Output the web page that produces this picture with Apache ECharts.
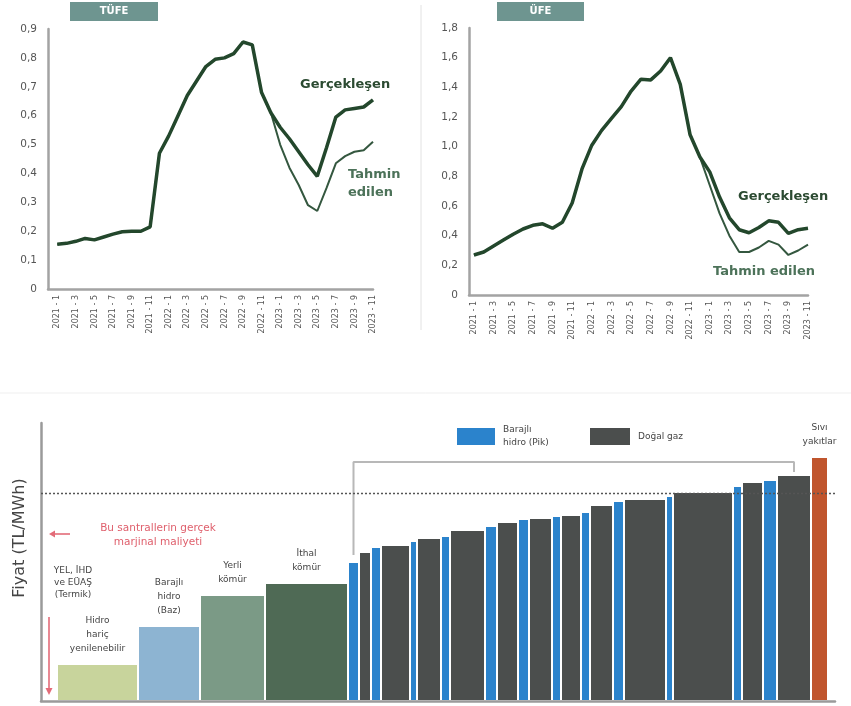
<!DOCTYPE html>
<html><head><meta charset="utf-8">
<script src="https://cdn.jsdelivr.net/npm/echarts@6/dist/echarts.min.js"></script>
<style>html,body{margin:0;padding:0;background:#fff}#c{width:851px;height:706px}</style>
</head><body><div id="c"></div>
<script>
// ---------- data: top charts ----------
const months = ['2021 - 1','2021 - 2','2021 - 3','2021 - 4','2021 - 5','2021 - 6','2021 - 7','2021 - 8','2021 - 9','2021 - 10','2021 - 11','2021 - 12',
  '2022 - 1','2022 - 2','2022 - 3','2022 - 4','2022 - 5','2022 - 6','2022 - 7','2022 - 8','2022 - 9','2022 - 10','2022 - 11','2022 - 12',
  '2023 - 1','2023 - 2','2023 - 3','2023 - 4','2023 - 5','2023 - 6','2023 - 7','2023 - 8','2023 - 9','2023 - 10','2023 - 11'];
const tufeActual = [0.155,0.158,0.165,0.175,0.17,0.18,0.19,0.198,0.2,0.2,0.215,0.47,0.53,0.6,0.67,0.72,0.77,0.795,0.80,0.815,0.855,0.845,0.68,0.61,0.56,0.52,0.475,0.43,0.39,0.49,0.595,0.62,0.625,0.63,0.655];
const tufeForecast = [0.155,0.158,0.165,0.175,0.17,0.18,0.19,0.198,0.2,0.2,0.215,0.47,0.53,0.6,0.67,0.72,0.77,0.795,0.80,0.815,0.855,0.845,0.68,0.61,0.50,0.42,0.36,0.29,0.27,0.35,0.435,0.46,0.475,0.48,0.51];
const ufeActual = [0.27,0.29,0.33,0.37,0.41,0.445,0.47,0.48,0.45,0.49,0.62,0.85,1.01,1.11,1.19,1.27,1.375,1.455,1.45,1.51,1.6,1.42,1.08,0.93,0.83,0.66,0.52,0.44,0.42,0.455,0.50,0.49,0.415,0.44,0.45];
const ufeForecast = [0.27,0.29,0.33,0.37,0.41,0.445,0.47,0.48,0.45,0.49,0.62,0.85,1.01,1.11,1.19,1.27,1.375,1.455,1.45,1.51,1.6,1.42,1.08,0.93,0.74,0.55,0.40,0.29,0.29,0.32,0.365,0.34,0.27,0.30,0.34];

// ---------- data: merit order ----------
const plantType = ['ren','baz','yerli','ithal','pik','gaz','pik','gaz','pik','gaz','pik','gaz','pik','gaz','pik','gaz','pik','gaz','pik','gaz','pik','gaz','pik','gaz','pik','gaz','pik','gaz','sivi'];
const plantCapacity = [81,62,65,83,11,12,10,29,7,24,9,35,12,21,11,23,9,20,9,23,11,42,7,60,9,21,14,34,17];
const plantCost = [36,74,105,117,138,148,153,155,159,162,164,170,174,178,181,182,184,185,188,195,199,201,204,208,214,218,220,225,243];
const plantLabels = ['Hidro\nhariç\nyenilenebilir','Barajlı\nhidro\n(Baz)','Yerli\nkömür','İthal\nkömür','','','','','','','','','','','','','','','','','','','','','','','','','Sıvı\nyakıtlar'];
const marginalPrice = 208;
const bracketTop = 239;

const typeColors = {ren:'#c8d49c', baz:'#8db4d2', yerli:'#7b9a86', ithal:'#4f6a55', pik:'#2b83cc', gaz:'#4b4e4d', sivi:'#c0552d'};

// build bar table [start, end, cost, index]
const bars = [];
let acc = 0;
plantCapacity.forEach((w, i) => { bars.push([acc, acc + w, plantCost[i], i]); acc += w; });
const firstPik = bars[plantType.indexOf('pik')];
const lastGaz = bars[plantType.lastIndexOf('gaz')];
const bracket = [
  [(firstPik[0] + firstPik[1]) / 2, firstPik[2] + 8],
  [(firstPik[0] + firstPik[1]) / 2, bracketTop],
  [(lastGaz[0] + lastGaz[1]) / 2, bracketTop],
  [(lastGaz[0] + lastGaz[1]) / 2, lastGaz[2] + 4]
];

const FONT = "'DejaVu Sans', sans-serif";
const lineColor = '#23472c';
const fmtY = v => v === 0 ? '0' : v.toFixed(1).replace('.', ',');
const fmtX = v => { const r = Math.round(v); return (Math.abs(v - r) < 1e-6 && r >= 0 && r % 2 === 0) ? months[r] : ''; };

const chart = echarts.init(document.getElementById('c'));
chart.setOption({
  animation: false,
  textStyle: {fontFamily: FONT},
  grid: [
    {left: 48, top: 29, width: 325, height: 260},
    {left: 469, top: 28, width: 339, height: 267},
    {left: 41, top: 423, width: 794, height: 278}
  ],
  xAxis: [
    {gridIndex: 0, type: 'value', min: -1, max: 34, interval: 1,
     axisLine: {onZero: false, lineStyle: {color: '#a3a3a3', width: 2.5}}, axisTick: {show: false}, splitLine: {show: false},
     axisLabel: {rotate: 90, fontSize: 8, color: '#555', margin: 6, formatter: fmtX}},
    {gridIndex: 1, type: 'value', min: -0.5, max: 34, interval: 0.5,
     axisLine: {onZero: false, lineStyle: {color: '#a3a3a3', width: 2.5}}, axisTick: {show: false}, splitLine: {show: false},
     axisLabel: {rotate: 90, fontSize: 8, color: '#555', margin: 6, formatter: fmtX}},
    {gridIndex: 2, type: 'value', min: -16, max: 778,
     axisLine: {onZero: false, lineStyle: {color: '#9a9a9a', width: 2.5}}, axisTick: {show: false}, axisLabel: {show: false}, splitLine: {show: false}}
  ],
  yAxis: [
    {gridIndex: 0, type: 'value', min: 0, max: 0.9, interval: 0.1,
     axisLine: {show: true, onZero: false, lineStyle: {color: '#a3a3a3', width: 2.5}}, axisTick: {show: false}, splitLine: {show: false},
     axisLabel: {fontSize: 10.5, color: '#555', margin: 11, formatter: fmtY}},
    {gridIndex: 1, type: 'value', min: 0, max: 1.8, interval: 0.2,
     axisLine: {show: true, onZero: false, lineStyle: {color: '#a3a3a3', width: 2.5}}, axisTick: {show: false}, splitLine: {show: false},
     axisLabel: {fontSize: 10.5, color: '#555', margin: 11, formatter: fmtY}},
    {gridIndex: 2, type: 'value', min: 0, max: 278,
     axisLine: {show: true, onZero: false, lineStyle: {color: '#9a9a9a', width: 2.5}}, axisTick: {show: false}, axisLabel: {show: false}, splitLine: {show: false}}
  ],
  series: [
    {type: 'line', xAxisIndex: 0, yAxisIndex: 0, name: 'TÜFE Tahmin edilen', data: tufeForecast.map((v, i) => [i, v]),
     showSymbol: false, lineStyle: {color: '#34573f', width: 2}, z: 2},
    {type: 'line', xAxisIndex: 0, yAxisIndex: 0, name: 'TÜFE Gerçekleşen', data: tufeActual.map((v, i) => [i, v]),
     showSymbol: false, lineStyle: {color: lineColor, width: 3.5}, z: 3},
    {type: 'line', xAxisIndex: 1, yAxisIndex: 1, name: 'ÜFE Tahmin edilen', data: ufeForecast.map((v, i) => [i, v]),
     showSymbol: false, lineStyle: {color: '#34573f', width: 2}, z: 2},
    {type: 'line', xAxisIndex: 1, yAxisIndex: 1, name: 'ÜFE Gerçekleşen', data: ufeActual.map((v, i) => [i, v]),
     showSymbol: false, lineStyle: {color: lineColor, width: 3.5}, z: 3},
    {type: 'custom', xAxisIndex: 2, yAxisIndex: 2, data: bars,
     renderItem: (params, api) => {
       const x0 = api.value(0), x1 = api.value(1), h = api.value(2), idx = api.value(3);
       const p0 = api.coord([x0, h]), p1 = api.coord([x1, 0]);
       const children = [{type: 'rect', shape: {x: p0[0] + 1, y: p0[1], width: p1[0] - p0[0] - 2, height: p1[1] - p0[1] - 1},
         style: {fill: typeColors[plantType[idx]]}}];
       const lab = plantLabels[idx];
       if (lab) children.push({type: 'text', x: (p0[0] + p1[0]) / 2, y: p0[1] - 9,
         style: {text: lab, fill: '#444', font: '9px ' + FONT, lineHeight: 14, textAlign: 'center', textVerticalAlign: 'bottom'}});
       return {type: 'group', children};
     },
     markLine: {silent: true, symbol: 'none', label: {show: false},
       lineStyle: {color: '#555', type: [2, 2], width: 1.3}, data: [{yAxis: marginalPrice}]},
     z: 2},
    {type: 'line', xAxisIndex: 2, yAxisIndex: 2, data: bracket, showSymbol: false,
     lineStyle: {color: '#b8b8b8', width: 2}, z: 1}
  ],
  graphic: [
    {type: 'line', shape: {x1: 421, y1: 5, x2: 421, y2: 330}, style: {stroke: '#e2e2e2', lineWidth: 1}},
    {type: 'line', shape: {x1: 0, y1: 393, x2: 851, y2: 393}, style: {stroke: '#efefef', lineWidth: 1}},
    {type: 'rect', shape: {x: 70, y: 2, width: 88, height: 19}, style: {fill: '#6e9590'}},
    {type: 'text', x: 114, y: 11.5, style: {text: 'TÜFE', fill: '#fff', font: 'bold 10px ' + FONT, textAlign: 'center', textVerticalAlign: 'middle'}},
    {type: 'rect', shape: {x: 497, y: 2, width: 87, height: 19}, style: {fill: '#6e9590'}},
    {type: 'text', x: 540.5, y: 11.5, style: {text: 'ÜFE', fill: '#fff', font: 'bold 10px ' + FONT, textAlign: 'center', textVerticalAlign: 'middle'}},
    {type: 'text', x: 300, y: 85, style: {text: 'Gerçekleşen', fill: '#2b4a31', font: 'bold 13px ' + FONT, textAlign: 'left', textVerticalAlign: 'middle'}},
    {type: 'text', x: 348, y: 184, style: {text: 'Tahmin\nedilen', fill: '#4c7259', font: 'bold 13px ' + FONT, lineHeight: 18, textAlign: 'left', textVerticalAlign: 'middle'}},
    {type: 'text', x: 738, y: 197, style: {text: 'Gerçekleşen', fill: '#2b4a31', font: 'bold 13px ' + FONT, textAlign: 'left', textVerticalAlign: 'middle'}},
    {type: 'text', x: 713, y: 272, style: {text: 'Tahmin edilen', fill: '#4c7259', font: 'bold 13px ' + FONT, textAlign: 'left', textVerticalAlign: 'middle'}},
    {type: 'text', x: 20, y: 538, rotation: Math.PI / 2, style: {text: 'Fiyat (TL/MWh)', fill: '#444', font: '16px ' + FONT, textAlign: 'center', textVerticalAlign: 'middle'}},
    {type: 'text', x: 158, y: 535, style: {text: 'Bu santrallerin gerçek\nmarjinal maliyeti', fill: '#df5f6c', font: '10.5px ' + FONT, lineHeight: 14, textAlign: 'center', textVerticalAlign: 'middle'}},
    {type: 'line', shape: {x1: 70, y1: 534, x2: 54, y2: 534}, style: {stroke: '#e36b78', lineWidth: 1.6}},
    {type: 'polygon', shape: {points: [[49, 534], [55, 530.5], [55, 537.5]]}, style: {fill: '#e36b78'}},
    {type: 'line', shape: {x1: 49, y1: 617, x2: 49, y2: 689}, style: {stroke: '#e36b78', lineWidth: 1.6}},
    {type: 'polygon', shape: {points: [[49, 695], [45.5, 688], [52.5, 688]]}, style: {fill: '#e36b78'}},
    {type: 'text', x: 73, y: 583, style: {text: 'YEL, İHD\nve EÜAŞ\n(Termik)', fill: '#444', font: '9px ' + FONT, lineHeight: 12, textAlign: 'center', textVerticalAlign: 'middle'}},
    {type: 'rect', shape: {x: 457, y: 428, width: 38, height: 17}, style: {fill: '#2b83cc'}},
    {type: 'text', x: 503, y: 436.5, style: {text: 'Barajlı\nhidro (Pik)', fill: '#444', font: '9px ' + FONT, lineHeight: 13, textAlign: 'left', textVerticalAlign: 'middle'}},
    {type: 'rect', shape: {x: 590, y: 428, width: 40, height: 17}, style: {fill: '#4b4e4d'}},
    {type: 'text', x: 638, y: 436.5, style: {text: 'Doğal gaz', fill: '#444', font: '9px ' + FONT, textAlign: 'left', textVerticalAlign: 'middle'}}
  ]
});
</script>
</body></html>
